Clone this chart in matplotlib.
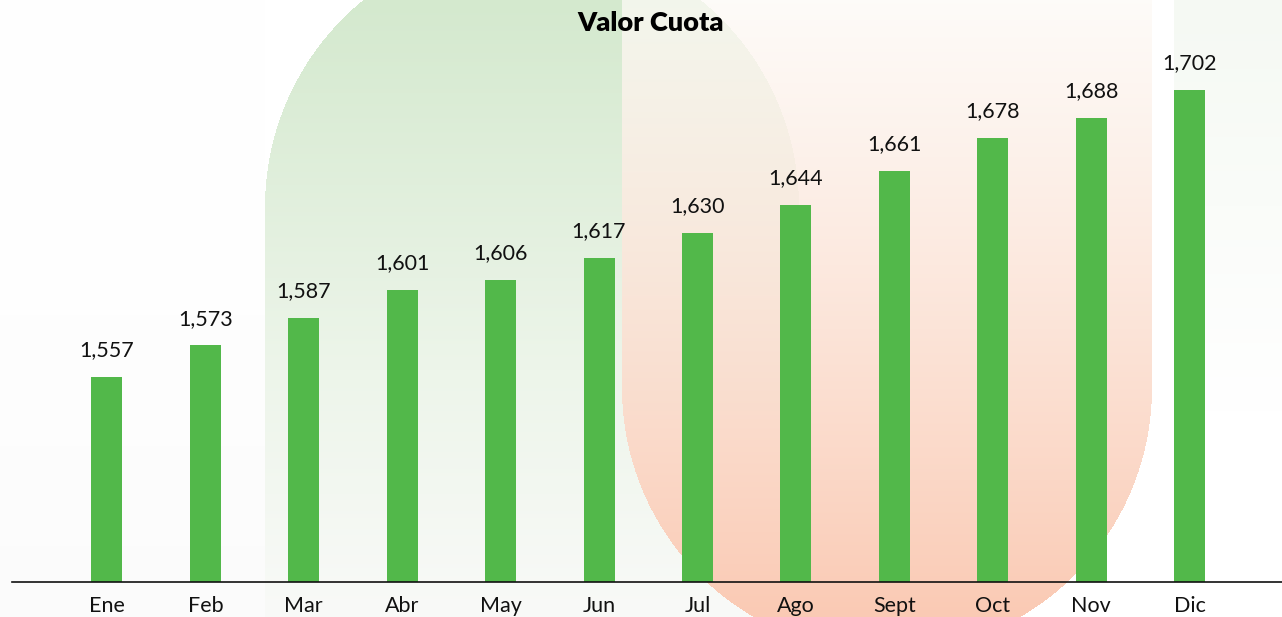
import numpy as np
import matplotlib
matplotlib.use("Agg")
import matplotlib.pyplot as plt

months = ["Ene", "Feb", "Mar", "Abr", "May", "Jun", "Jul", "Ago", "Sept", "Oct", "Nov", "Dic"]
values = [1557, 1573, 1587, 1601, 1606, 1617, 1630, 1644, 1661, 1678, 1688, 1702]
title = "Valor Cuota"

W, H = 1282, 617
fig = plt.figure(figsize=(W / 100, H / 100), dpi=100)

# ---- decorative background (pixel space) ----
yy, xx = np.mgrid[0:H, 0:W] + 0.5
img = np.ones((H, W, 3))
t = (yy / H)[..., None]

# left area very faint grey toward bottom
left = xx < 265
img[left] = (np.array([1, 1, 1]) * (1 - 0.015 * t ** 2))[left]

# right strip faint green toward top
rs = xx > 1174
k = np.clip(t * 1.5, 0, 1)
rcol = np.array([245, 249, 243]) / 255 * (1 - k) + np.array([1, 1, 1]) * k
img[rs] = rcol[rs]

# green stadium shape
gcx, gcy, gr = 532, 207, 267
green = (xx >= 265) & (xx <= 799) & ((yy >= gcy) | ((xx - gcx) ** 2 + (yy - gcy) ** 2 <= gr ** 2))
gtop = np.array([212, 233, 206]) / 255
gmid = np.array([237, 245, 234]) / 255
gbot = np.array([249, 250, 248]) / 255
tt = t[..., 0]
gcol = np.where((tt < 0.6)[..., None],
                gtop * (1 - (tt / 0.6)[..., None]) + gmid * (tt / 0.6)[..., None],
                gmid * (1 - ((tt - 0.6) / 0.4)[..., None]) + gbot * ((tt - 0.6) / 0.4)[..., None])
img[green] = gcol[green]

# orange U shape
ocx, ocy, orr = 887, 388, 265
orange = (xx >= 622) & (xx <= 1152) & ((yy <= ocy) | ((xx - ocx) ** 2 + (yy - ocy) ** 2 <= orr ** 2))
otop = np.array([253, 250, 246]) / 255
obot = np.array([250, 202, 180]) / 255
ocol = otop * (1 - t) + obot * t
a = 0.75 + 0.25 * t
blend = ocol * a + img * (1 - a)
img[orange] = blend[orange]

bg = fig.add_axes([0, 0, 1, 1], zorder=0)
bg.imshow(img, extent=[0, W, H, 0], aspect="auto", interpolation="bilinear")
bg.set_xlim(0, W)
bg.set_ylim(H, 0)
bg.axis("off")

# ---- main chart ----
ax = fig.add_axes([12 / W, (H - 582) / H, 1 - 12 / W, 582 / H], zorder=1)
ax.patch.set_alpha(0)
x = np.arange(len(months))
ax.bar(x, values, width=0.315, color="#52b84a", zorder=2)
ax.set_ylim(1453.4, 1747.5)
ax.set_xlim(-0.965, 11.94)

for xi, v in zip(x, values):
    ax.annotate(f"{v:,}", (xi, v), xytext=(0, 12), textcoords="offset points",
                ha="center", va="bottom", fontsize=15.5, family="Lato", color="#111111")

ax.set_xticks(x)
ax.set_xticklabels(months, fontsize=15.5, family="Lato", color="#111111")
ax.tick_params(axis="x", length=0, pad=10)
ax.set_yticks([])
for s in ["top", "right", "left"]:
    ax.spines[s].set_visible(False)
ax.spines["bottom"].set_linewidth(1.2)
ax.spines["bottom"].set_color("#111111")

fig.text(651 / W, 1 - 23 / H, title, ha="center", va="center", fontsize=19.5,
         family="Lato", fontweight="heavy", color="#000000")

fig.savefig("out.png", dpi=100)
